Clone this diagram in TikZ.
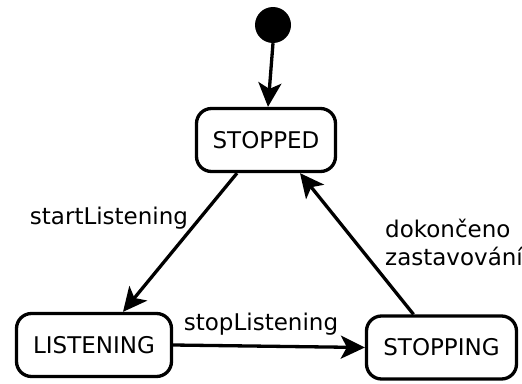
\documentclass[tikz,border=0pt]{standalone}
\usepackage{fontspec}
\setmainfont{DejaVu Sans}
\usetikzlibrary{arrows.meta}
\begin{document}
\begin{tikzpicture}[x=1pt,y=-1pt,
  state/.style={draw,line width=3.3pt,rounded corners=15pt,minimum height=63pt,inner sep=0pt,
                font=\fontsize{23}{28}\selectfont},
  trans/.style={line width=3.3pt,-{Stealth[length=24pt,width=23pt,inset=6pt]}},
  lbl/.style={inner sep=0pt,font=\fontsize{23}{28}\selectfont}]
\useasboundingbox (0,0) rectangle (522,383);
\node[circle,fill=black,minimum size=36pt,inner sep=0pt] (init) at (273,25) {};
\node[state,minimum width=139pt] (stopped) at (266,140) {STOPPED};
\node[state,minimum width=155pt] (listening) at (94,345) {LISTENING};
\node[state,minimum width=150pt] (stopping) at (441.5,347.5) {STOPPING};
\draw[trans] (init.south) -- ([xshift=2pt]stopped.north);
\draw[trans] ([xshift=-29pt]stopped.south) -- ([xshift=29pt]listening.north);
\draw[trans] (listening.east) -- (stopping.west);
\draw[trans] ([xshift=-28pt]stopping.north) -- ([xshift=34pt]stopped.south);
\node[lbl] (l1) at (109,218) {startListening};
\node[lbl] (l2) at (261,324) {stopListening};
\node[lbl,align=left,anchor=west] (l3) at (385,242) {dokončeno\\zastavování};
\end{tikzpicture}
\end{document}
